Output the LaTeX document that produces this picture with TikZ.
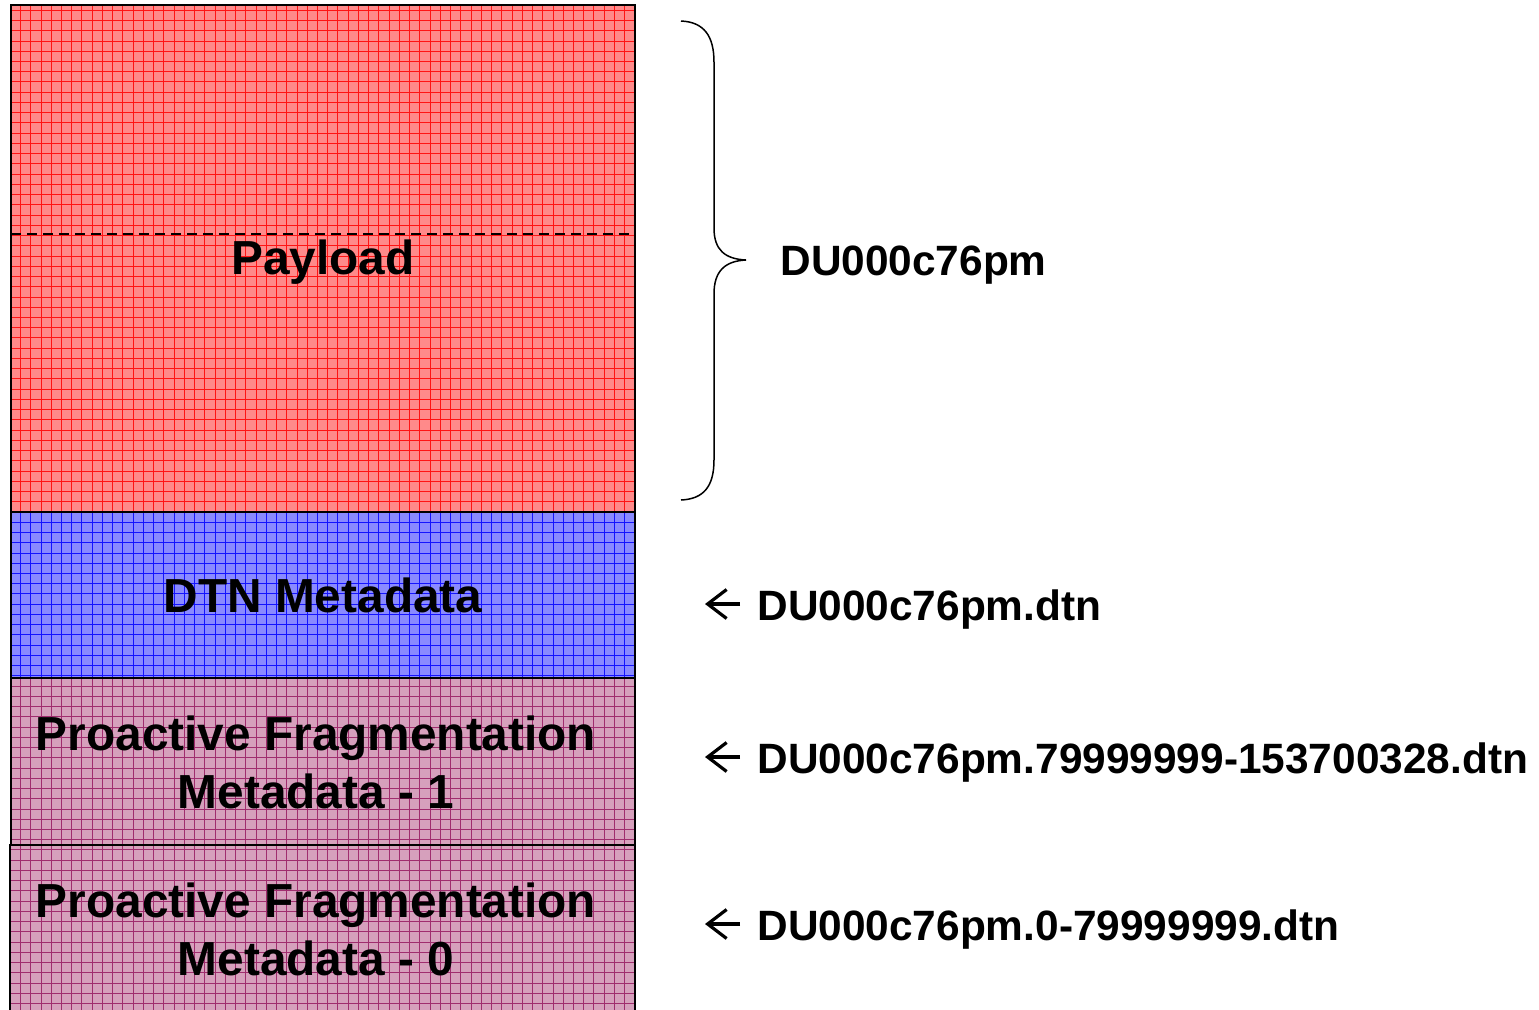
\documentclass[tikz,border=0pt]{standalone}
\usepackage{fontspec}
\setmainfont{Liberation Sans}
\usetikzlibrary{calc,arrows.meta}
\definecolor{red1}{RGB}{255,138,138}
\definecolor{red2}{RGB}{255,20,20}
\definecolor{blue1}{RGB}{138,138,255}
\definecolor{blue2}{RGB}{20,20,255}
\definecolor{pink1}{RGB}{214,160,188}
\definecolor{pink2}{RGB}{160,45,110}
\tikzset{
  layer/.style={draw=black,line width=1.2pt},
  layergrid/.style={line width=0.45pt,step=5.12pt},
  boxtext/.style={font=\bfseries\fontsize{23.9}{29}\selectfont,inner sep=0pt,align=center},
  filetext/.style={font=\bfseries\fontsize{21.2}{25}\selectfont,inner sep=0pt,anchor=base west},
  filearrow/.style={line width=1.6pt,-{Straight Barb[length=9.5pt,width=14.5pt]}}
}

\begin{document}
\begin{tikzpicture}[x=0.5pt,y=-0.5pt]
\useasboundingbox (0,0) rectangle (1539,1009);
% the four layers of the file
\foreach \xa/\ya/\yb/\fc/\lc in {11/5/512/red1/red2,11/512/678/blue1/blue2,11/678/845/pink1/pink2,10/845/1014/pink1/pink2}{
  \fill[\fc] (\xa,\ya) rectangle (635,\yb);
  \begin{scope}
  \clip (\xa,\ya) rectangle (635,\yb);
  \draw[\lc,layergrid] (\xa,\ya) grid (635,\yb);
  \end{scope}
  \draw[layer] (\xa,\ya) rectangle (635,\yb);
}
\draw[line width=0.75pt,dash pattern=on 5pt off 3pt] (11,234) -- (635,234);
\node[boxtext,anchor=base] (payload) at (323,274) {Payload};
\node[boxtext,anchor=base] (dtnmeta) at (323,612) {DTN Metadata};
\node[boxtext] (pfmeta1) at (316,762) {Proactive Fragmentation\\Metadata - 1};
\node[boxtext] (pfmeta0) at (316,929) {Proactive Fragmentation\\Metadata - 0};
% brace over the payload
\draw[line width=0.75pt] (681,21) .. controls (704,22) and (714,36) .. (714,62) -- (714,228)
  .. controls (714,250) and (725,259) .. (746,260) .. controls (725,261) and (714,271) .. (714,294)
  -- (714,460) .. controls (714,486) and (704,499) .. (681,500);
\node[filetext] (bundle) at (780,275) {DU000c76pm};
\node[filetext] (dtnfile) at (757,620) {DU000c76pm.dtn};
\node[filetext] (pffile1) at (757,773) {DU000c76pm.79999999-153700328.dtn};
\node[filetext] (pffile0) at (757,940) {DU000c76pm.0-79999999.dtn};
\foreach \f in {dtnfile,pffile1,pffile0}
  \draw[filearrow] ([shift={(-8.5pt,8pt)}]\f.base west) -- ++(-17.5pt,0);
\end{tikzpicture}
\end{document}
